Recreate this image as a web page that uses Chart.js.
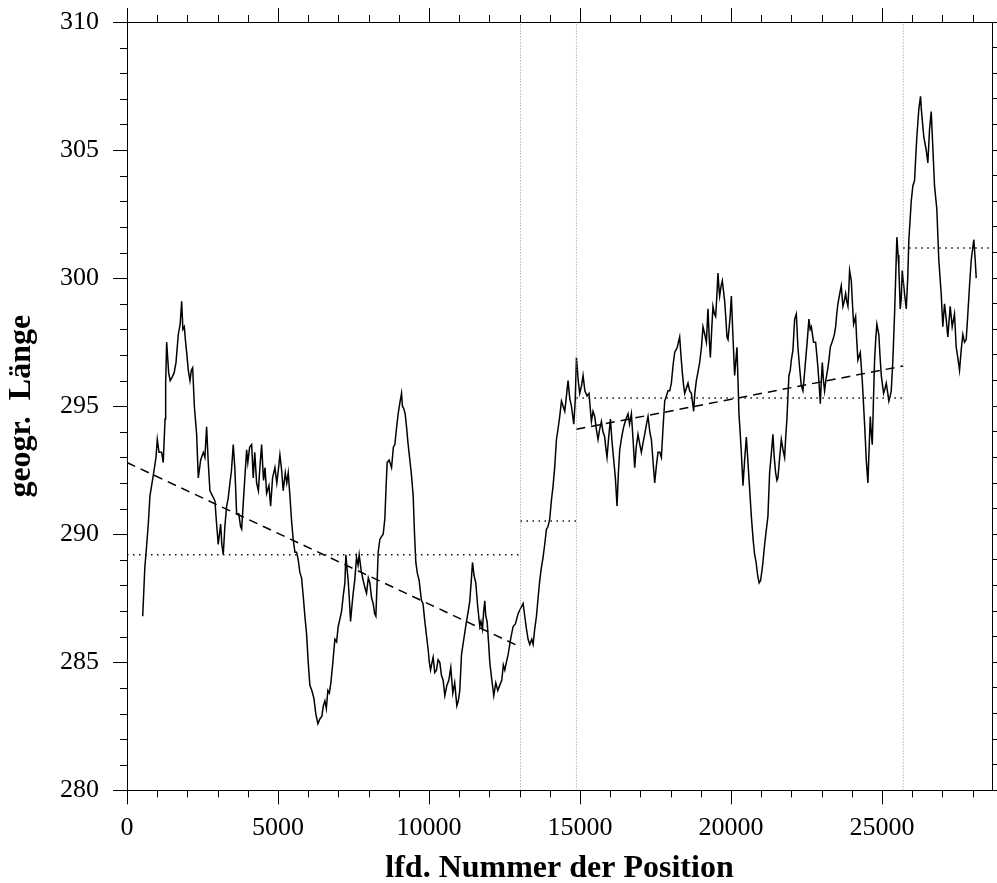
<!DOCTYPE html>
<html>
<head>
<meta charset="utf-8">
<script src="https://cdn.jsdelivr.net/npm/chart.js@4.4.1/dist/chart.umd.min.js"></script>
<style>
  html, body { margin: 0; padding: 0; background: #fff; overflow: hidden; }
  canvas { display: block; }
</style>
</head>
<body>
<canvas id="chart" width="997" height="883"></canvas>
<script>
// axis ranges
const xMin = 0;
const xMax = 28640;
const yMin = 280;
const yMax = 310;

// tick positions on the x axes (labels only on the multiples of 5000)
const xTickValues = [
  0, 1000, 2000, 3000, 4000, 5000, 6000, 7000, 8000, 9000,
  10000, 11000, 12000, 13000, 14000, 15000, 16000, 17000, 18000, 19000,
  20000, 21000, 22000, 23000, 24000, 25000, 26000, 27000, 28000,
];

// geogr. Laenge against position number
const track = [
  [520, 286.8], [590, 288.7], [640, 289.4], [705, 290.4], [760, 291.5], [870, 292.3], [960, 293.0],
  [1003, 293.7], [1060, 293.2], [1147, 293.2], [1200, 292.8], [1260, 294.5], [1280, 295.9], [1313, 297.5],
  [1380, 296.3], [1430, 296.0], [1479, 296.1], [1560, 296.3], [1622, 296.7], [1698, 297.8], [1760, 298.2],
  [1810, 299.1], [1850, 298.0], [1897, 298.1], [1940, 297.5], [1975, 297.1], [2030, 296.4], [2085, 296.0],
  [2130, 296.4], [2174, 296.5], [2230, 295.0], [2306, 293.9], [2360, 292.2], [2440, 292.9], [2525, 293.2],
  [2580, 293.0], [2636, 294.2], [2690, 292.8], [2746, 291.7], [2830, 291.5], [2912, 291.3], [2960, 290.5],
  [3021, 289.6], [3100, 290.4], [3140, 289.6], [3187, 289.2], [3240, 290.3], [3299, 291.1], [3350, 291.4],
  [3408, 292.0], [3460, 292.5], [3518, 293.5], [3570, 292.6], [3630, 290.8], [3700, 290.8], [3760, 290.3],
  [3796, 290.2], [3880, 291.8], [3961, 293.3], [4000, 292.8], [4060, 293.4], [4127, 293.5], [4180, 292.2],
  [4230, 293.2], [4292, 292.0], [4350, 291.7], [4400, 292.6], [4457, 293.5], [4520, 292.1], [4570, 292.6],
  [4623, 291.6], [4700, 291.9], [4755, 291.1], [4820, 292.2], [4898, 292.6], [4960, 292.0], [5010, 292.5],
  [5063, 293.1], [5120, 292.5], [5172, 291.7], [5240, 292.4], [5290, 292.0], [5338, 292.4], [5394, 291.5],
  [5450, 290.5], [5503, 289.8], [5560, 289.3], [5615, 289.3], [5670, 289.0], [5725, 288.5], [5780, 288.3],
  [5834, 287.6], [5890, 286.8], [5946, 286.1], [6000, 285.0], [6055, 284.1], [6120, 283.9], [6188, 283.6],
  [6250, 283.0], [6320, 282.6], [6390, 282.8], [6453, 282.9], [6500, 283.3], [6552, 283.5], [6600, 283.2],
  [6651, 283.9], [6700, 283.8], [6750, 284.2], [6800, 284.8], [6883, 285.9], [6940, 285.8], [6993, 286.4],
  [7050, 286.7], [7105, 287.0], [7160, 287.6], [7214, 288.1], [7247, 289.2], [7290, 288.6], [7323, 288.2],
  [7360, 287.5], [7402, 286.6], [7440, 287.1], [7489, 287.7], [7540, 288.2], [7600, 289.1], [7650, 288.8],
  [7688, 289.2], [7750, 288.6], [7820, 288.2], [7880, 287.9], [7930, 287.7], [7990, 288.3], [8041, 288.1],
  [8100, 287.5], [8151, 287.3], [8200, 286.9], [8240, 286.8], [8290, 288.4], [8316, 289.3], [8372, 289.8],
  [8420, 289.9], [8482, 290.0], [8537, 290.6], [8580, 291.9], [8614, 292.8], [8680, 292.9], [8759, 292.6],
  [8820, 293.4], [8868, 293.5], [8920, 294.1], [8978, 294.7], [9030, 295.1], [9090, 295.5], [9120, 295.0],
  [9166, 294.9], [9210, 294.7], [9255, 294.2], [9300, 293.6], [9365, 292.9], [9420, 292.3], [9475, 291.5],
  [9520, 290.0], [9563, 288.9], [9610, 288.5], [9673, 288.2], [9710, 287.8], [9752, 287.4], [9800, 287.3],
  [9861, 286.6], [9920, 286.0], [9971, 285.5], [10010, 285.0], [10050, 284.7], [10100, 285.0], [10136, 285.2],
  [10190, 284.6], [10247, 284.7], [10300, 285.1], [10357, 285.0], [10410, 284.5], [10467, 284.3], [10523, 283.7],
  [10590, 284.1], [10655, 284.3], [10720, 284.8], [10788, 283.8], [10850, 284.2], [10920, 283.3], [10970, 283.5],
  [11019, 283.9], [11075, 285.3], [11150, 285.9], [11240, 286.6], [11300, 287.0], [11350, 287.4], [11400, 288.2],
  [11439, 288.9], [11490, 288.4], [11548, 288.1], [11610, 287.2], [11681, 286.4], [11720, 286.6], [11769, 286.3],
  [11810, 287.0], [11846, 287.4], [11880, 286.8], [11923, 286.6], [11970, 285.8], [12012, 285.0], [12080, 284.3],
  [12144, 283.7], [12210, 284.2], [12277, 283.9], [12340, 284.1], [12409, 284.3], [12460, 284.9], [12508, 284.7],
  [12560, 285.0], [12619, 285.3], [12700, 285.9], [12784, 286.4], [12860, 286.5], [12949, 286.9], [13030, 287.1],
  [13115, 287.3], [13170, 286.8], [13226, 286.3], [13280, 285.9], [13336, 285.7], [13400, 285.9], [13446, 285.7],
  [13500, 286.3], [13557, 286.8], [13610, 287.5], [13666, 288.2], [13720, 288.7], [13776, 289.1], [13830, 289.6],
  [13888, 290.2], [13940, 290.3], [13997, 290.6], [14050, 291.3], [14108, 291.9], [14160, 292.6], [14219, 293.7],
  [14270, 294.1], [14328, 294.6], [14385, 295.2], [14440, 295.0], [14494, 294.8], [14550, 295.4], [14603, 296.0],
  [14660, 295.3], [14715, 295.0], [14760, 294.6], [14792, 294.3], [14840, 295.2], [14881, 296.9], [14940, 296.0],
  [14990, 295.5], [15050, 295.8], [15100, 296.2], [15160, 295.6], [15232, 295.4], [15298, 295.5], [15340, 294.9],
  [15376, 294.4], [15430, 294.8], [15486, 294.6], [15540, 294.1], [15596, 293.7], [15650, 294.1], [15707, 294.4],
  [15760, 294.0], [15817, 293.8], [15850, 293.4], [15893, 293.0], [15950, 293.8], [16006, 294.5], [16060, 293.6],
  [16115, 292.9], [16170, 292.2], [16225, 291.1], [16270, 292.4], [16314, 293.3], [16380, 293.8], [16446, 294.2],
  [16520, 294.5], [16589, 294.7], [16640, 294.3], [16700, 294.7], [16760, 293.6], [16810, 292.6], [16860, 293.4],
  [16920, 293.9], [16980, 293.5], [17031, 293.2], [17090, 293.6], [17141, 293.9], [17200, 294.3], [17251, 294.6],
  [17310, 294.0], [17362, 293.7], [17420, 292.8], [17472, 292.0], [17530, 292.7], [17582, 293.2], [17640, 293.2],
  [17693, 293.0], [17750, 294.2], [17803, 295.2], [17860, 295.4], [17913, 295.6], [17970, 295.6], [18024, 295.9],
  [18080, 296.6], [18134, 297.1], [18220, 297.3], [18299, 297.7], [18340, 297.0], [18388, 296.3], [18430, 295.8],
  [18465, 295.5], [18520, 295.7], [18575, 295.9], [18630, 295.6], [18686, 295.5], [18730, 295.1], [18762, 294.8],
  [18800, 295.5], [18851, 296.0], [18900, 296.3], [18961, 296.7], [19020, 297.3], [19071, 298.1], [19130, 297.8],
  [19183, 297.5], [19236, 298.8], [19280, 297.6], [19315, 296.9], [19360, 298.0], [19401, 298.9], [19450, 298.6],
  [19490, 298.5], [19530, 299.3], [19567, 300.2], [19600, 299.6], [19623, 299.3], [19670, 299.7], [19711, 299.9],
  [19750, 299.5], [19788, 299.1], [19830, 298.4], [19865, 297.7], [19900, 297.6], [19931, 297.6], [19970, 298.5],
  [20010, 299.3], [20060, 297.8], [20119, 296.2], [20160, 296.8], [20196, 297.3], [20230, 296.0], [20262, 294.7],
  [20300, 294.0], [20340, 293.2], [20370, 292.5], [20395, 291.9], [20450, 292.9], [20506, 293.8], [20550, 293.0],
  [20592, 292.2], [20630, 291.5], [20672, 290.7], [20730, 289.8], [20781, 289.2], [20830, 288.9], [20880, 288.4],
  [20930, 288.1], [20980, 288.2], [21046, 288.8], [21112, 289.6], [21170, 290.2], [21221, 290.7], [21277, 292.4],
  [21330, 293.1], [21387, 293.9], [21430, 293.0], [21476, 292.4], [21520, 292.1], [21552, 292.2], [21610, 293.0],
  [21664, 293.7], [21720, 293.3], [21774, 293.0], [21810, 293.8], [21850, 294.5], [21880, 295.3], [21916, 296.2],
  [21960, 296.4], [21995, 296.8], [22049, 297.2], [22105, 298.4], [22161, 298.6], [22214, 297.3], [22270, 296.5],
  [22326, 295.8], [22380, 295.6], [22420, 296.1], [22469, 296.8], [22520, 297.5], [22578, 298.4], [22620, 298.0],
  [22657, 298.1], [22733, 297.5], [22800, 297.5], [22840, 297.0], [22876, 296.5], [22920, 295.8], [22955, 295.1],
  [22990, 296.0], [23021, 296.7], [23060, 296.0], [23097, 295.6], [23150, 296.1], [23207, 296.5], [23250, 296.9],
  [23286, 297.3], [23374, 297.6], [23420, 297.8], [23462, 298.1], [23500, 298.6], [23538, 299.0], [23600, 299.4],
  [23649, 299.7], [23704, 298.9], [23750, 299.1], [23793, 299.4], [23830, 299.1], [23870, 298.9], [23900, 299.6],
  [23925, 300.3], [23981, 299.9], [24020, 299.0], [24058, 298.2], [24124, 298.5], [24160, 297.6], [24200, 296.8],
  [24279, 297.1], [24345, 296.0], [24390, 295.0], [24421, 294.3], [24450, 293.6], [24477, 292.9], [24531, 292.0],
  [24570, 293.3], [24610, 294.6], [24640, 294.0], [24676, 293.5], [24710, 295.0], [24752, 296.8], [24790, 297.6],
  [24828, 298.2], [24894, 297.8], [24930, 297.0], [24974, 296.2], [25050, 295.5], [25100, 295.7], [25139, 295.9],
  [25190, 295.5], [25225, 295.2], [25270, 295.4], [25304, 295.6], [25358, 296.8], [25414, 298.6], [25450, 300.0],
  [25490, 301.6], [25530, 300.9], [25556, 300.4], [25602, 298.8], [25635, 299.2], [25668, 300.3], [25710, 299.8],
  [25744, 299.4], [25801, 298.8], [25850, 300.0], [25887, 301.5], [25930, 302.3], [25966, 303.0], [26019, 303.6],
  [26075, 303.8], [26110, 304.6], [26151, 305.5], [26217, 306.6], [26274, 307.1], [26300, 306.6], [26330, 306.2],
  [26383, 305.5], [26462, 305.0], [26516, 304.5], [26572, 305.8], [26628, 306.5], [26681, 305.1], [26737, 303.6],
  [26813, 302.7], [26879, 300.7], [26958, 299.4], [27011, 298.1], [27068, 299.0], [27124, 298.4], [27177, 297.7],
  [27256, 298.9], [27322, 298.1], [27398, 298.6], [27455, 297.3], [27508, 296.9], [27565, 296.4], [27621, 297.2],
  [27674, 297.8], [27730, 297.5], [27786, 297.6], [27840, 298.6], [27896, 299.7], [27952, 300.7], [28005, 301.2],
  [28038, 301.5], [28085, 300.7], [28118, 300.0],
];

// segment boundaries (vertical dotted lines) and segment means (horizontal dotted lines)
const breakX = [13030, 14880, 25700];
const segStart = [0, 13030, 14880, 25700];
const segEnd = [13030, 14880, 25700, 28640];
const segMean = [289.2, 290.52, 295.32, 301.18];

// linear trends (dashed lines)
const trendStartX = [0, 14880];
const trendEndX = [13030, 25700];
const trendStartY = [292.8, 294.1];
const trendEndY = [285.6, 296.57];

const serif = 'Liberation Serif';

const datasets = [];

breakX.forEach((bx) => {
  datasets.push({
    data: [{ x: bx, y: yMin }, { x: bx, y: yMax }],
    borderColor: '#8c8c8c',
    borderWidth: 1,
    borderDash: [1, 2],
  });
});

segMean.forEach((m, i) => {
  datasets.push({
    data: [{ x: segStart[i], y: m }, { x: segEnd[i], y: m }],
    borderColor: '#111111',
    borderWidth: 1.5,
    borderDash: [1.5, 4.5],
  });
});

trendStartX.forEach((sx, i) => {
  datasets.push({
    data: [{ x: sx, y: trendStartY[i] }, { x: trendEndX[i], y: trendEndY[i] }],
    borderColor: '#000000',
    borderWidth: 1.5,
    borderDash: [9, 6],
  });
});

datasets.push({
  data: track.map(([x, y]) => ({ x, y })),
  borderColor: '#000000',
  borderWidth: 1.5,
});

const setXTicks = (scale) => {
  scale.ticks = xTickValues.map((value) => ({ value }));
};

const majorOnly = (step) => (ctx) => (ctx.tick && ctx.tick.value % step === 0 ? '#000' : 'rgba(0,0,0,0)');

// short minor ticks; chart.js has one tick length per axis
const minorTicks = {
  id: 'minorTicks',
  afterDraw(chart) {
    const { ctx, chartArea, scales } = chart;
    ctx.save();
    ctx.strokeStyle = '#000';
    ctx.lineWidth = 1;
    ctx.beginPath();
    scales.x.ticks.forEach((t) => {
      if (t.value % 5000 === 0) return;
      const px = Math.round(scales.x.getPixelForValue(t.value)) + 0.5;
      ctx.moveTo(px, chartArea.bottom);
      ctx.lineTo(px, chartArea.bottom + 7);
    });
    scales.xTop.ticks.forEach((t) => {
      if (t.value % 5000 === 0) return;
      const px = Math.round(scales.xTop.getPixelForValue(t.value)) + 0.5;
      ctx.moveTo(px, chartArea.top);
      ctx.lineTo(px, chartArea.top - 7);
    });
    scales.y.ticks.forEach((t) => {
      if (t.value % 5 === 0) return;
      const py = Math.round(scales.y.getPixelForValue(t.value)) + 0.5;
      ctx.moveTo(chartArea.left, py);
      ctx.lineTo(chartArea.left - 7, py);
    });
    ctx.stroke();
    ctx.restore();
  },
};

const axisBorder = { display: true, color: '#000', width: 1 };

new Chart(document.getElementById('chart'), {
  type: 'scatter',
  data: { datasets },
  options: {
    responsive: false,
    animation: false,
    showLine: true,
    layout: { padding: { top: 8, right: 0, bottom: 0, left: 0 } },
    elements: {
      point: { radius: 0, hoverRadius: 0 },
      line: { tension: 0, fill: false },
    },
    plugins: {
      legend: { display: false },
      tooltip: { enabled: false },
    },
    scales: {
      x: {
        type: 'linear',
        position: 'bottom',
        min: xMin,
        max: xMax,
        afterBuildTicks: setXTicks,
        border: axisBorder,
        grid: {
          drawOnChartArea: false,
          tickLength: 14,
          color: majorOnly(5000),
          tickColor: majorOnly(5000),
        },
        ticks: {
          autoSkip: false,
          maxRotation: 0,
          padding: 8.6,
          color: '#000',
          font: { family: serif, size: 26 },
          callback: (v) => (v % 5000 === 0 ? String(v) : ''),
        },
        title: {
          display: true,
          text: 'lfd. Nummer der Position',
          color: '#000',
          font: { family: serif, size: 32, weight: 'bold', lineHeight: 0.8 },
          padding: { top: 3.4, bottom: 1.2 },
        },
      },
      xTop: {
        type: 'linear',
        position: 'top',
        min: xMin,
        max: xMax,
        afterBuildTicks: setXTicks,
        border: axisBorder,
        grid: {
          drawOnChartArea: false,
          tickLength: 14,
          color: majorOnly(5000),
          tickColor: majorOnly(5000),
        },
        ticks: { autoSkip: false, display: false },
      },
      y: {
        type: 'linear',
        position: 'left',
        min: yMin,
        max: yMax,
        border: axisBorder,
        grid: {
          drawOnChartArea: false,
          tickLength: 14,
          color: majorOnly(5),
          tickColor: majorOnly(5),
        },
        ticks: {
          stepSize: 1,
          autoSkip: false,
          padding: 14,
          color: '#000',
          font: { family: serif, size: 26, lineHeight: 0.6 },
          callback: (v) => (v % 5 === 0 ? String(v) : ''),
        },
        title: {
          display: true,
          text: 'geogr.  Länge',
          color: '#000',
          font: { family: serif, size: 32, weight: 'bold', lineHeight: 0.8 },
          padding: { top: 8.7, bottom: 11.7 },
        },
      },
      yRight: {
        type: 'linear',
        position: 'right',
        min: yMin,
        max: yMax,
        border: axisBorder,
        grid: {
          drawOnChartArea: false,
          tickLength: 5,
          color: '#000',
          tickColor: '#000',
        },
        ticks: { stepSize: 1, autoSkip: false, display: false },
      },
    },
  },
  plugins: [minorTicks],
});
</script>
</body>
</html>
